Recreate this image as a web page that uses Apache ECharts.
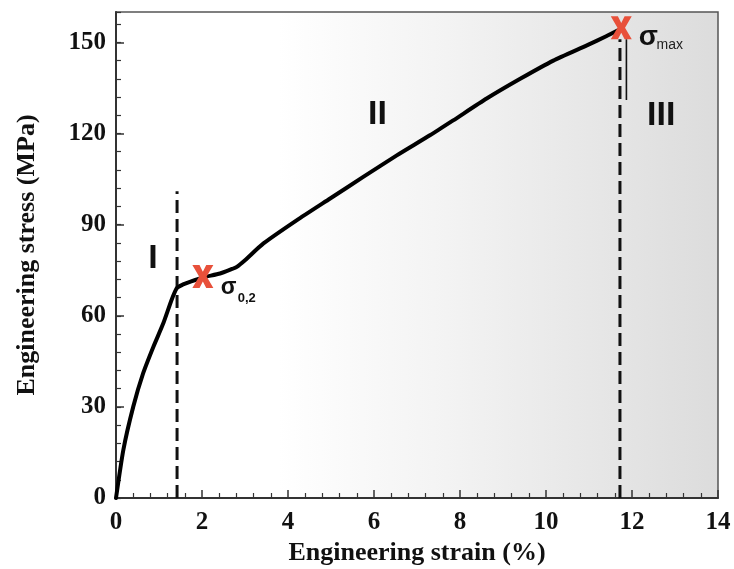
<!DOCTYPE html>
<html>
<head>
<meta charset="utf-8">
<script src="https://cdn.jsdelivr.net/npm/echarts@6/dist/echarts.min.js"></script>
<style>
  html, body { margin: 0; padding: 0; background: #ffffff; }
  #chart { width: 734px; height: 569px; }
</style>
</head>
<body>
<div id="chart"></div>
<script>
// Tensile test: engineering strain (%) vs engineering stress (MPa)
const strain = [0, 0.17, 0.40, 0.63, 0.87, 1.10, 1.29, 1.41, 1.53, 1.75, 2.02, 2.42, 2.70, 2.80, 3.00, 3.43, 4.20, 4.98, 5.75, 6.53, 7.30, 7.84, 8.62, 9.40, 10.17, 10.95, 11.40, 11.72];
const stress = [0, 15.8, 30.0, 41.0, 49.8, 57.5, 65.1, 69.0, 70.1, 71.3, 72.6, 73.9, 75.4, 76.0, 78.3, 83.8, 91.4, 98.6, 105.7, 112.8, 119.4, 124.3, 131.5, 138.0, 144.0, 149.0, 152.0, 154.3];

// Yield strength (0.2 % offset) and ultimate strength points
const yieldPoint = [2.02, 72.9];
const maxPoint = [11.75, 154.8];

// Stage boundaries (strain) and the stress the dashed markers reach
const boundaryStrain = [1.42, 11.72];
const boundaryTop = [101, 151];
// Short solid marker next to the ultimate-strength boundary
const uBar = { strain: 11.87, from: 131, to: 151 };

// Axis ticks
const xTicks = [0, 2, 4, 6, 8, 10, 12, 14];
const yTicks = [0, 30, 60, 90, 120, 150];

// Stage labels (data coordinates)
const stageLabels = [
  { text: 'I', at: [0.86, 78.9] },
  { text: 'II', at: [6.08, 126.1] },
  { text: 'III', at: [12.68, 126.0] }
];

const curve = strain.map((s, i) => [s, stress[i]]);

const xSymbol = 'path://M0,0 L34,0 L50,29 L66,0 L100,0 L68,50 L100,100 L66,100 L50,71 L34,100 L0,100 L32,50 Z';

const serif = '"Liberation Serif", "Times New Roman", serif';
const sans = '"Liberation Sans", Arial, sans-serif';

const chart = echarts.init(document.getElementById('chart'), null, { renderer: 'canvas' });

const option = {
  animation: false,
  backgroundColor: '#ffffff',
  grid: {
    left: 116, right: 16, top: 12, bottom: 71,
    containLabel: false,
    outerBoundsMode: 'none',
    show: true,
    borderColor: '#555555',
    borderWidth: 1.5,
    backgroundColor: new echarts.graphic.LinearGradient(0, 0, 1, 0, [
      { offset: 0, color: '#ffffff' },
      { offset: 0.27, color: '#ffffff' },
      { offset: 0.55, color: '#f3f3f3' },
      { offset: 1, color: '#dcdcdc' }
    ])
  },
  xAxis: {
    type: 'value',
    min: xTicks[0],
    max: xTicks[xTicks.length - 1],
    interval: xTicks[1] - xTicks[0],
    name: 'Engineering strain (%)',
    nameLocation: 'middle',
    nameGap: 38,
    nameTextStyle: { fontFamily: serif, fontWeight: 'bold', fontSize: 26, color: '#111' },
    axisLine: { show: true, onZero: false, lineStyle: { color: '#333', width: 2 } },
    axisTick: { show: true, inside: true, length: 8, lineStyle: { color: '#333', width: 1.5 } },
    minorTick: { show: true, splitNumber: 5, length: 5, lineStyle: { color: '#333', width: 1.2 } },
    axisLabel: { fontFamily: serif, fontWeight: 'bold', fontSize: 25, color: '#111', margin: 12 },
    splitLine: { show: false }
  },
  yAxis: [
    {
      type: 'value',
      min: 0,
      max: 160,
      interval: yTicks[1] - yTicks[0],
      name: 'Engineering stress (MPa)',
      nameLocation: 'middle',
      nameGap: 76,
      nameTextStyle: { fontFamily: serif, fontWeight: 'bold', fontSize: 26, color: '#111' },
      axisLine: { show: true, onZero: false, lineStyle: { color: '#333', width: 2 } },
      axisTick: { show: true, inside: true, length: 8, lineStyle: { color: '#333', width: 1.5 } },
      axisLabel: {
        fontFamily: serif, fontWeight: 'bold', fontSize: 25, color: '#111', margin: 10,
        showMaxLabel: false,
        formatter: v => (yTicks.indexOf(v) >= 0 ? String(v) : '')
      },
      splitLine: { show: false }
    },
    {
      // minor ticks every 6 MPa
      type: 'value',
      position: 'left',
      min: 0,
      max: 160,
      interval: 6,
      axisLine: { show: false },
      axisTick: { show: true, inside: true, length: 5, lineStyle: { color: '#333', width: 1.2 } },
      axisLabel: { show: false },
      splitLine: { show: false }
    }
  ],
  series: [
    {
      name: 'boundary-1',
      type: 'line',
      data: [[boundaryStrain[0], 0], [boundaryStrain[0], boundaryTop[0]]],
      symbol: 'none',
      lineStyle: { color: '#111', width: 3, type: [13, 6] },
      z: 2
    },
    {
      name: 'boundary-2',
      type: 'line',
      data: [[boundaryStrain[1], 0], [boundaryStrain[1], boundaryTop[1]]],
      symbol: 'none',
      lineStyle: { color: '#111', width: 3, type: [13, 6] },
      z: 2
    },
    {
      name: 'u-bar',
      type: 'line',
      data: [[uBar.strain, uBar.from], [uBar.strain, uBar.to]],
      symbol: 'none',
      lineStyle: { color: '#111', width: 1.6 },
      z: 2
    },
    {
      name: 'stress-strain',
      type: 'line',
      data: curve,
      symbol: 'none',
      smooth: 0.2,
      lineStyle: { color: '#000', width: 4, cap: 'round', join: 'round' },
      z: 3
    },
    {
      name: 'points',
      type: 'scatter',
      data: [yieldPoint, maxPoint],
      symbol: xSymbol,
      symbolSize: [21, 23],
      itemStyle: { color: '#e8503a', opacity: 1 },
      z: 5
    }
  ]
};

chart.setOption(option);

function px(p) { return chart.convertToPixel({ xAxisIndex: 0, yAxisIndex: 0 }, p); }

const graphics = stageLabels.map(l => {
  const p = px(l.at);
  return {
    type: 'text', x: p[0], y: p[1], z: 10,
    style: { text: l.text, font: 'bold 34px ' + sans, fill: '#111', align: 'center', verticalAlign: 'middle' }
  };
});

// sigma_0,2 next to the yield point
const s02 = px([2.62, 69.2]);
graphics.push({
  type: 'text', x: s02[0], y: s02[1], z: 10,
  style: { text: 'σ', font: 'bold 23px ' + sans, fill: '#111', align: 'center', verticalAlign: 'middle' }
});
const s02sub = px([2.83, 65.6]);
graphics.push({
  type: 'text', x: s02sub[0], y: s02sub[1], z: 10,
  style: { text: '0,2', font: 'bold 13px ' + sans, fill: '#111', align: 'left', verticalAlign: 'middle' }
});

// sigma_max next to the ultimate strength point
const smax = px([12.38, 151.6]);
graphics.push({
  type: 'text', x: smax[0], y: smax[1], z: 10,
  style: { text: 'σ', font: 'bold 28px ' + sans, fill: '#111', align: 'center', verticalAlign: 'middle' }
});
const smaxSub = px([12.57, 149.0]);
graphics.push({
  type: 'text', x: smaxSub[0], y: smaxSub[1], z: 10,
  style: { text: 'max', font: '14px ' + sans, fill: '#222', align: 'left', verticalAlign: 'middle' }
});

chart.setOption({ graphic: graphics });
</script>
</body>
</html>
